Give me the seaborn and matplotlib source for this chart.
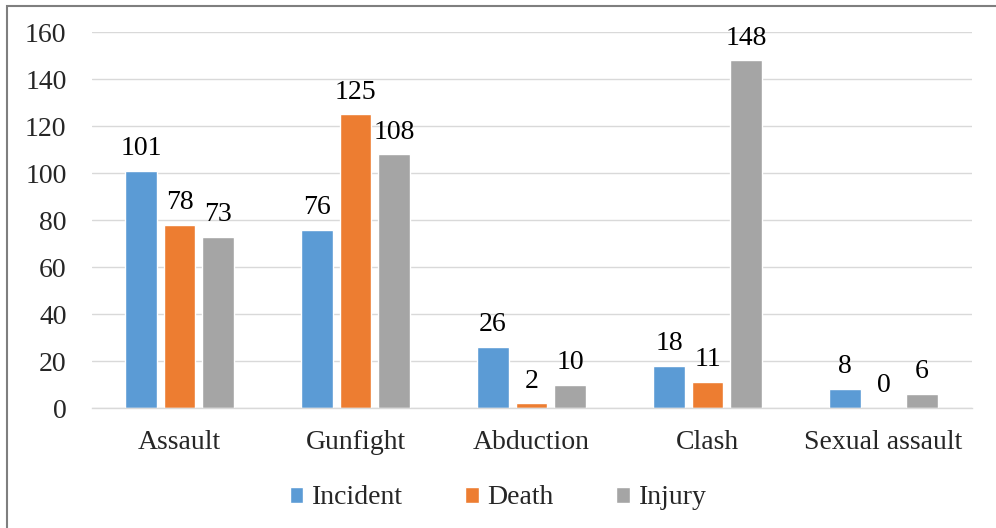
import matplotlib
matplotlib.use("Agg")
import matplotlib.pyplot as plt
import seaborn as sns
import pandas as pd
from matplotlib.patches import Rectangle

categories = ["Assault", "Gunfight", "Abduction", "Clash", "Sexual assault"]
series_names = ["Incident", "Death", "Injury"]
incident = [101, 76, 26, 18, 8]
death = [78, 125, 2, 11, 0]
injury = [73, 108, 10, 148, 6]
colors = ["#5B9BD5", "#ED7D31", "#A5A5A5"]
yticks = [0, 20, 40, 60, 80, 100, 120, 140, 160]

rows = []
for name, vals in zip(series_names, [incident, death, injury]):
    for c, v in zip(categories, vals):
        rows.append({"Category": c, "Series": name, "Value": v})
df = pd.DataFrame(rows)

sns.set_theme(style="white")
plt.rcParams["font.family"] = ["Liberation Serif", "DejaVu Serif"]

FS = 20

fig = plt.figure(figsize=(9.96, 5.28), dpi=100)
ax = fig.add_axes([91.5 / 996, 1 - 408 / 528, 880 / 996, 375.7 / 528])

sns.barplot(data=df, x="Category", y="Value", hue="Series", order=categories,
            hue_order=series_names, palette=colors, width=0.656, gap=0.17,
            saturation=1, ax=ax, legend=True)

for cont in ax.containers:
    ax.bar_label(cont, padding=7, fontsize=FS, color="#000000")

ax.set_ylim(0, 160)
ax.set_xlim(-0.5, 4.5)
ax.set_yticks(yticks)
ax.set_yticklabels([str(t) for t in yticks], fontsize=FS)
ax.tick_params(axis="x", labelsize=FS, pad=16, length=0)
ax.tick_params(axis="y", pad=18, length=0)
ax.set_xlabel("")
ax.set_ylabel("")
ax.yaxis.grid(True, color="#D9D9D9", linewidth=1)
ax.set_axisbelow(True)
for s in ["left", "right", "top"]:
    ax.spines[s].set_visible(False)
ax.spines["bottom"].set_color("#D9D9D9")
ax.spines["bottom"].set_linewidth(1)

handles, labels = ax.get_legend_handles_labels()
ax.legend_.remove()
fig.legend(handles, labels, loc="center", bbox_to_anchor=(0.5, 1 - 498 / 528),
           ncol=3, frameon=False, fontsize=FS, handlelength=0.5, handleheight=0.5,
           handletextpad=0.3, columnspacing=2.25)

fig.patches.append(Rectangle((7 / 996, -0.1), 1.2, 1 - 6 / 528 + 0.1,
                             transform=fig.transFigure, fill=False,
                             edgecolor="#7F7F7F", linewidth=1.5))

fig.savefig("out.png", dpi=100)
